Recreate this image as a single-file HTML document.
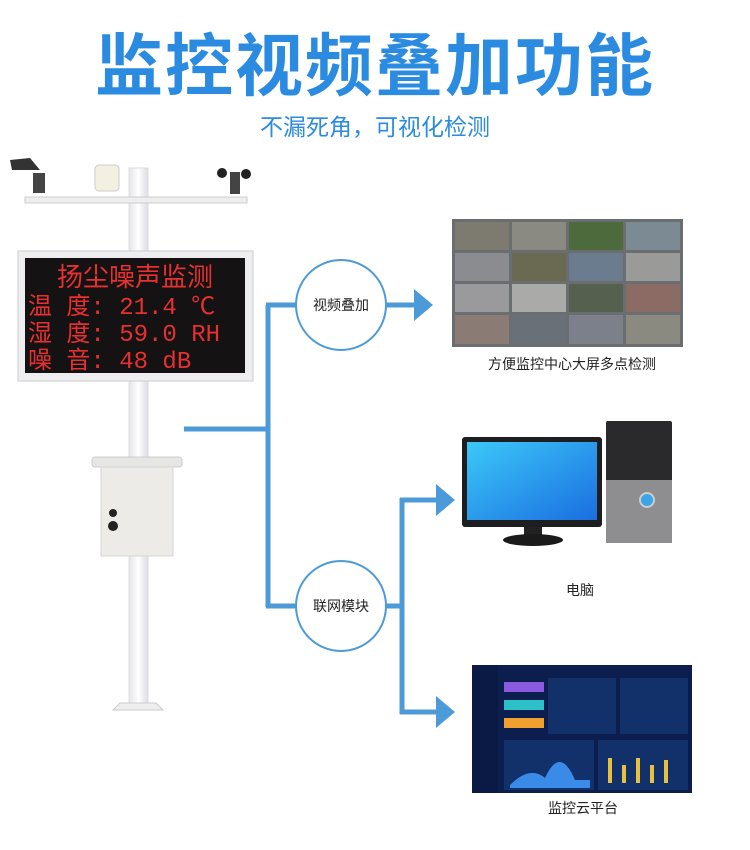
<!DOCTYPE html>
<html><head><meta charset="utf-8"><style>
body{margin:0;width:750px;height:850px;background:#fff;position:relative;overflow:hidden;font-family:"Liberation Sans","Noto Sans CJK SC",sans-serif}
.a{position:absolute}
</style></head><body>
<div class="a" style="left:0;top:22px;width:750px;text-align:center;font-size:68px;font-weight:bold;color:#2a8be0;letter-spacing:2px;line-height:90px">监控视频叠加功能</div>
<div class="a" style="left:0;top:112px;width:750px;text-align:center;font-size:23px;color:#2a8be0;line-height:30px">不漏死角，可视化检测</div>

<svg class="a" style="left:0;top:0" width="750" height="850">
<defs><linearGradient id="p" x1="0" x2="1"><stop offset="0" stop-color="#e4e4ea"/><stop offset=".5" stop-color="#fff"/><stop offset="1" stop-color="#dcdce2"/></linearGradient>
<linearGradient id="s" x1="0" y1="0" x2="1" y2="1"><stop offset="0" stop-color="#3cc8f8"/><stop offset="1" stop-color="#1a6ee0"/></linearGradient></defs>
<!-- pole -->
<rect x="129" y="168" width="19" height="540" fill="url(#p)" stroke="#ddd"/>
<rect x="25" y="197" width="222" height="6" fill="#eee" stroke="#ccc"/>
<path d="M10 160 L30 158 L40 170 L12 170Z" fill="#333"/>
<rect x="33" y="173" width="12" height="20" fill="#444"/>
<rect x="95" y="165" width="24" height="26" rx="4" fill="#f3f0e2" stroke="#ccc"/>
<rect x="230" y="172" width="10" height="22" fill="#444"/>
<circle cx="222" cy="173" r="5" fill="#222"/><circle cx="246" cy="174" r="5" fill="#222"/>
<path d="M113 710 L163 710 L156 703 L120 703Z" fill="#eee" stroke="#ccc"/>
<!-- LED -->
<rect x="18" y="251" width="235" height="130" fill="#eeeef0" stroke="#ccc"/>
<rect x="25" y="258" width="220" height="115" fill="#141212"/>
<text x="135" y="286" fill="#e83030" font-size="26" text-anchor="middle" font-family="Noto Sans CJK SC">扬尘噪声监测</text>
<g fill="#e83030" font-size="24" font-family="Liberation Mono,Noto Sans CJK SC">
<text x="28" y="314">温 度:  21.4 ℃</text>
<text x="28" y="341">湿 度:  59.0 RH</text>
<text x="28" y="368">噪 音:  48   dB</text></g>
<!-- box -->
<rect x="92" y="457" width="90" height="10" rx="3" fill="#e6e6e4" stroke="#ccc"/>
<rect x="101" y="467" width="72" height="89" fill="#ecebe8" stroke="#d5d5d5"/>
<circle cx="113" cy="513" r="4" fill="#222"/><circle cx="113" cy="526" r="5" fill="#222"/>
<!-- connectors -->
<g stroke="#4d9ad8" stroke-width="5" fill="none">
<path d="M184 429 H268 M268 305 V607 M266 305 H296 M266 606 H296 M386 305 H418 M386 606 H402 M402 498 V714 M400 500 H440 M400 712 H440"/>
</g>
<g fill="#4d9ad8"><path d="M414 289 L433 305 L414 321Z"/><path d="M436 484 L455 500 L436 516Z"/><path d="M436 696 L455 712 L436 728Z"/></g>
<circle cx="341" cy="305" r="45" fill="#fff" stroke="#4d9ad8" stroke-width="2"/>
<circle cx="341" cy="606" r="45" fill="#fff" stroke="#4d9ad8" stroke-width="2"/>
<text x="341" y="310" font-size="14" text-anchor="middle" fill="#222">视频叠加</text>
<text x="341" y="611" font-size="14" text-anchor="middle" fill="#222">联网模块</text>
<!-- video wall -->
<rect x="452" y="219" width="231" height="128" fill="#6a6e70"/>
<g fill="#8a8e88">
<rect x="455" y="222" width="54" height="28" fill="#7d7a70"/><rect x="512" y="222" width="54" height="28" fill="#8a8a82"/><rect x="569" y="222" width="54" height="28" fill="#4c6a3c"/><rect x="626" y="222" width="54" height="28" fill="#7c8a94"/>
<rect x="455" y="253" width="54" height="28" fill="#8a8c90"/><rect x="512" y="253" width="54" height="28" fill="#6a6a52"/><rect x="569" y="253" width="54" height="28" fill="#6a7c8e"/><rect x="626" y="253" width="54" height="28" fill="#9a9a98"/>
<rect x="455" y="284" width="54" height="28" fill="#9a9a9c"/><rect x="512" y="284" width="54" height="28" fill="#aaaaa8"/><rect x="569" y="284" width="54" height="28" fill="#55604e"/><rect x="626" y="284" width="54" height="28" fill="#8a6c64"/>
<rect x="455" y="315" width="54" height="29" fill="#8a7c74"/><rect x="512" y="315" width="54" height="29" fill="#6a7078"/><rect x="569" y="315" width="54" height="29" fill="#7c808a"/><rect x="626" y="315" width="54" height="29" fill="#8a8a80"/></g>
<text x="572" y="369" font-size="14" text-anchor="middle" fill="#222">方便监控中心大屏多点检测</text>
<!-- computer -->
<rect x="462" y="437" width="140" height="90" rx="3" fill="#1e1e20"/>
<rect x="467" y="442" width="130" height="78" fill="url(#s)"/>
<rect x="524" y="527" width="18" height="10" fill="#222"/>
<ellipse cx="533" cy="540" rx="30" ry="6" fill="#1a1a1a"/>
<rect x="606" y="421" width="66" height="122" rx="2" fill="#2a2a2c"/>
<rect x="606" y="480" width="66" height="63" fill="#8e8e90"/>
<circle cx="647" cy="500" r="7" fill="#3aa6e8" stroke="#ccc" stroke-width="2"/>
<text x="580" y="595" font-size="14" text-anchor="middle" fill="#222">电脑</text>
<!-- dashboard -->
<rect x="472" y="665" width="220" height="128" fill="#0c1e4e"/>
<rect x="472" y="665" width="26" height="128" fill="#0a1a44"/>
<rect x="504" y="682" width="40" height="10" fill="#8a5ae0"/>
<rect x="504" y="700" width="40" height="10" fill="#2ec0c8"/>
<rect x="504" y="718" width="40" height="10" fill="#f0a030"/>
<rect x="548" y="678" width="68" height="56" fill="#12306a"/>
<rect x="620" y="678" width="68" height="56" fill="#12306a"/>
<rect x="504" y="740" width="90" height="50" fill="#12306a"/>
<rect x="598" y="740" width="90" height="50" fill="#12306a"/>
<path d="M510 785 Q530 765 545 778 Q560 745 575 780 L590 780 L590 788 L510 788Z" fill="#3a8ae8"/>
<g fill="#e8c040"><rect x="608" y="758" width="4" height="25"/><rect x="622" y="765" width="4" height="18"/><rect x="636" y="758" width="4" height="25"/><rect x="650" y="765" width="4" height="18"/><rect x="664" y="760" width="4" height="23"/></g>
<text x="583" y="813" font-size="14" text-anchor="middle" fill="#222">监控云平台</text>
</svg>
</body></html>
